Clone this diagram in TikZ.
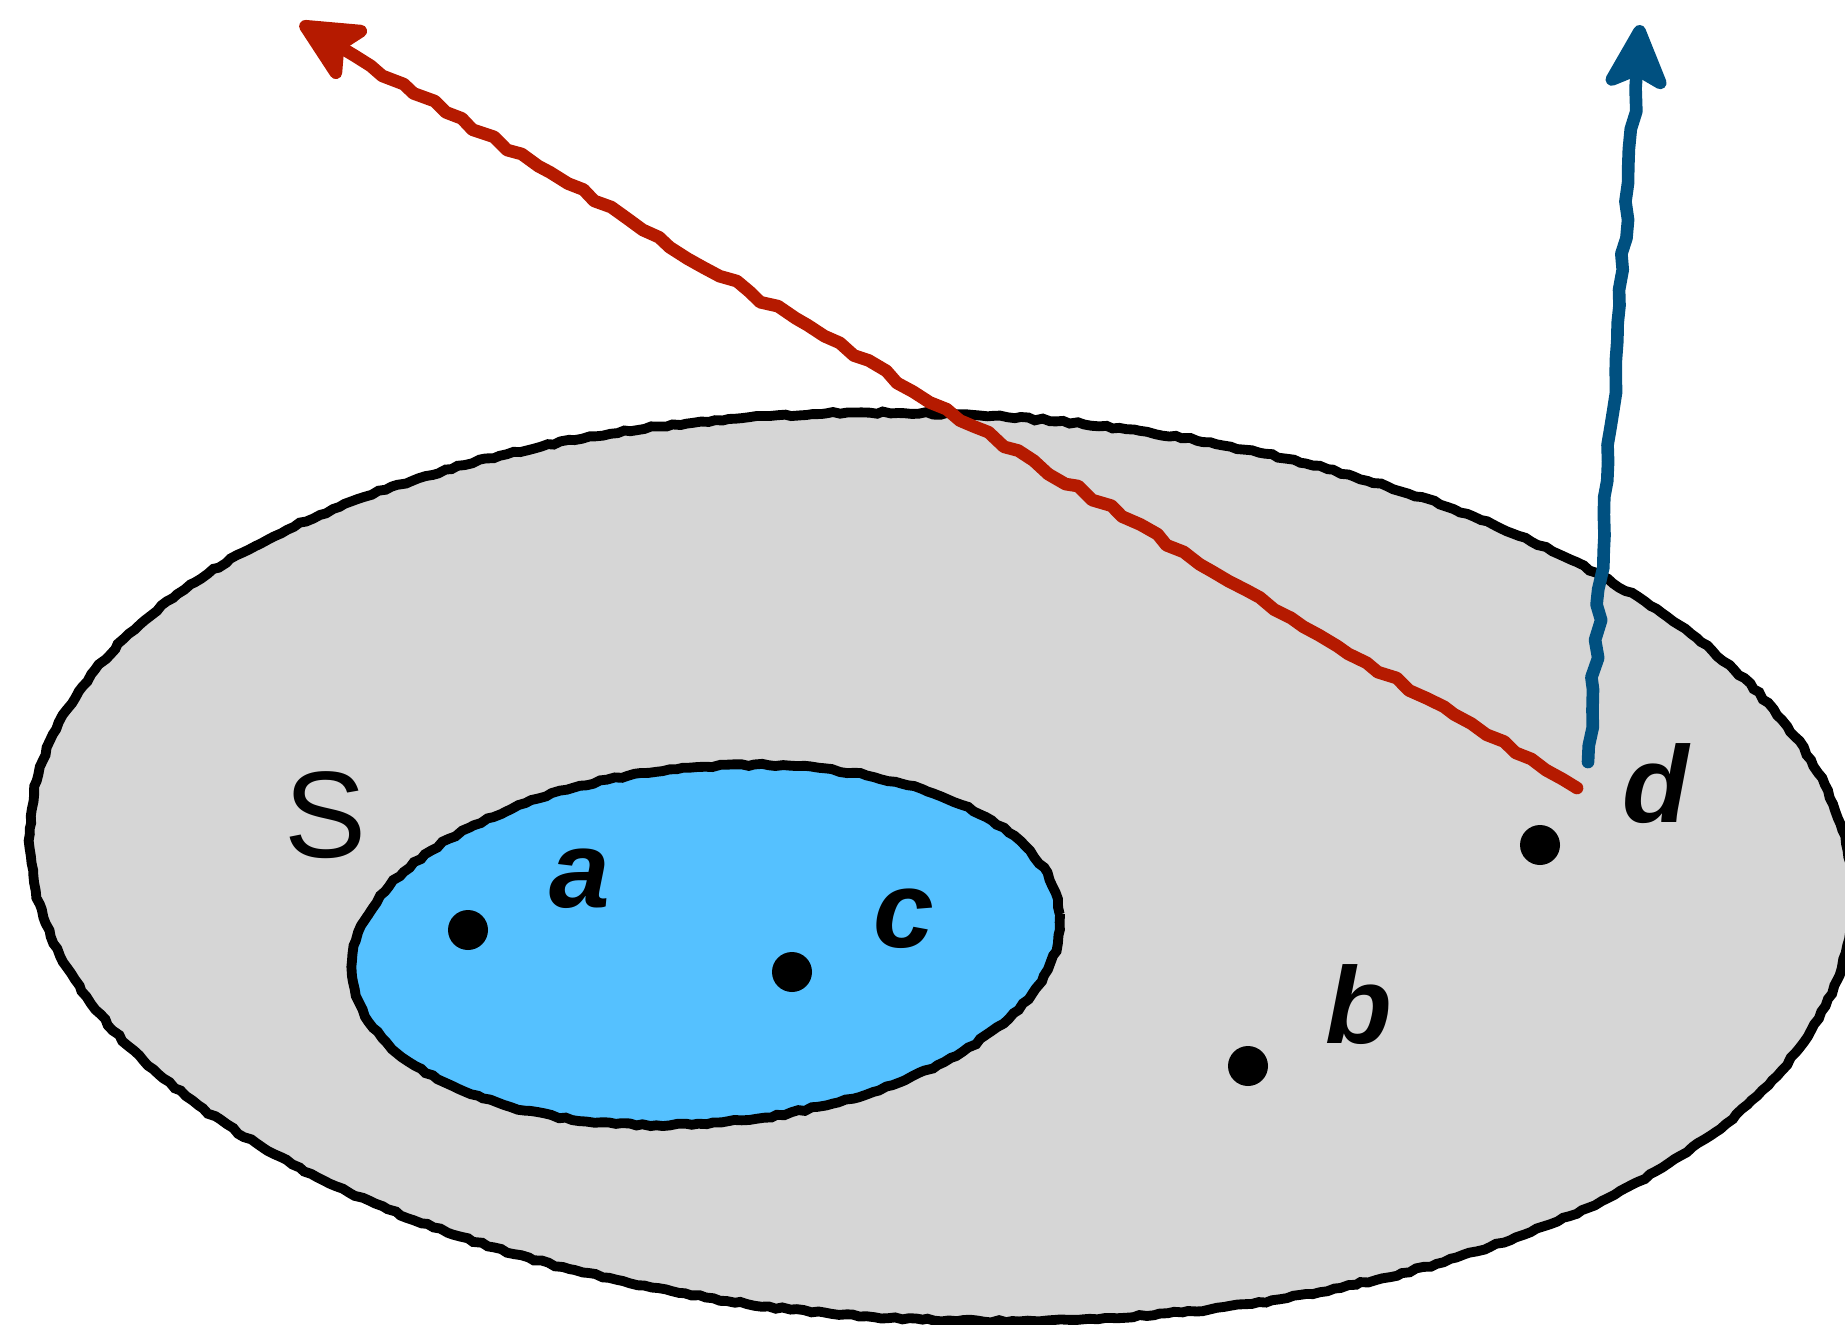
\documentclass[tikz,border=0pt]{standalone}
\usepackage{fontspec}
\setmainfont{Liberation Sans}
\usetikzlibrary{arrows.meta,decorations.pathmorphing}

\definecolor{setgrey}{HTML}{D6D6D6}
\definecolor{subblue}{HTML}{55C1FF}
\definecolor{rayred}{HTML}{B51A00}
\definecolor{rayblue}{HTML}{005080}

\tikzset{
  rough/.style={decorate, decoration={random steps, segment length=2pt, amplitude=0.35pt}},
  shaky/.style={decorate, decoration={random steps, segment length=5pt, amplitude=0.9pt, post length=18pt},
    line width=3.6pt, line cap=round, line join=round,
    -{Stealth[length=22pt, width=21pt, inset=5pt, round]}},
  dot/.style={circle, fill=black, inner sep=0pt, minimum size=0.4cm},
  lbl/.style={font=\fontsize{31}{36}\selectfont\bfseries\itshape, inner sep=0pt},
}

\begin{document}
\begin{tikzpicture}
\pgfmathsetseed{7}
\useasboundingbox (0,0) rectangle (18.45,13.24);

% Sets: outer S and the blue subset
\filldraw[rough, fill=setgrey, line width=2.8pt, rotate around={-2.5:(9.41,4.57)}]
  (9.41,4.57) ellipse [x radius=9.12, y radius=4.53];
\filldraw[rough, fill=subblue, line width=2.8pt, rotate around={5:(7.06,3.79)}]
  (7.06,3.79) ellipse [x radius=3.55, y radius=1.78];

% Points
\foreach \n/\x/\y in {a/4.68/3.94, c/7.92/3.52, b/12.48/2.58, d/15.40/4.79} {
  \node[dot] (\n) at (\x,\y) {};
}

% Labels
\node[font=\fontsize{35}{40}\selectfont, inner sep=0pt] (lS) at (3.26,5.09) {S};
\node[lbl] (la) at (5.80,4.45) {a};
\node[lbl] (lc) at (9.04,4.05) {c};
\node[lbl] (lb) at (13.59,3.19) {b};
\node[lbl] (ld) at (16.56,5.40) {d};

% Rays leaving d
\coordinate (redtail) at (15.77,5.36);
\coordinate (redtip) at (3.00,13.01);
\coordinate (bluetail) at (15.88,5.62);
\coordinate (bluetip) at (16.40,12.99);
\draw[shaky, rayred] (redtail) -- (redtip);
\draw[shaky, rayblue] (bluetail) -- (bluetip);
\end{tikzpicture}
\end{document}
